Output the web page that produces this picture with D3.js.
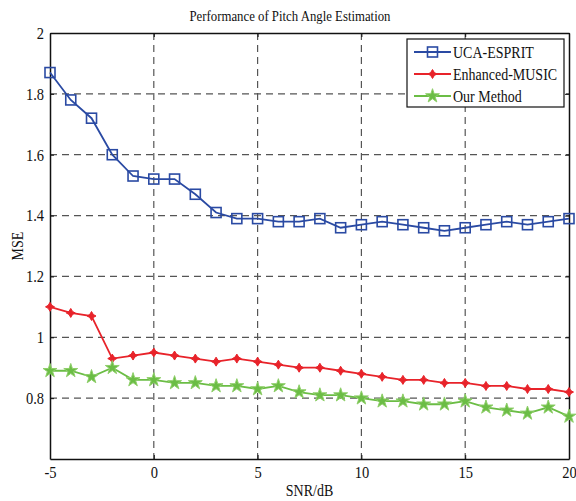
<!DOCTYPE html>
<html><head><meta charset="utf-8">
<script src="https://d3js.org/d3.v7.min.js"></script>
<style>body{margin:0;background:#fff}svg{display:block}text{font-family:"Liberation Serif","Times New Roman",serif;fill:#111}</style>
</head><body>
<script>
const snr = [-5,-4,-3,-2,-1,0,1,2,3,4,5,6,7,8,9,10,11,12,13,14,15,16,17,18,19,20];
const ucaEsprit = [1.87,1.78,1.72,1.60,1.53,1.52,1.52,1.47,1.41,1.39,1.39,1.38,1.38,1.39,1.36,1.37,1.38,1.37,1.36,1.35,1.36,1.37,1.38,1.37,1.38,1.39];
const enhancedMusic = [1.10,1.08,1.07,0.93,0.94,0.95,0.94,0.93,0.92,0.93,0.92,0.91,0.90,0.90,0.89,0.88,0.87,0.86,0.86,0.85,0.85,0.84,0.84,0.83,0.83,0.82];
const ourMethod = [0.89,0.89,0.87,0.90,0.86,0.86,0.85,0.85,0.84,0.84,0.83,0.84,0.82,0.81,0.81,0.80,0.79,0.79,0.78,0.78,0.79,0.77,0.76,0.75,0.77,0.74];
const seriesNames = ["UCA-ESPRIT","Enhanced-MUSIC","Our Method"];
const xTicks = [-5,0,5,10,15,20];
const yTicks = [0.8,1,1.2,1.4,1.6,1.8,2];
const title = "Performance of Pitch Angle Estimation";
const xLabel = "SNR/dB", yLabel = "MSE";

const W=576,H=501;
const m={l:50,r:7,t:33,b:42};
const S=1.15; // vertical glyph stretch of the original figure
const svg=d3.select("body").append("svg").attr("width",W).attr("height",H);
const x=d3.scaleLinear().domain([-5,20]).range([m.l,W-m.r]);
const y=d3.scaleLinear().domain([0.6,2]).range([H-m.b,m.t]);
const at=(px,py)=>`translate(${px},${py}) scale(1,${S})`;

// grid
const g=svg.append("g");
g.selectAll(".gx").data(xTicks.slice(1,-1)).enter().append("line")
 .attr("x1",d=>x(d)).attr("x2",d=>x(d)).attr("y1",m.t).attr("y2",H-m.b)
 .attr("stroke","#555").attr("stroke-dasharray","7,5").attr("stroke-width",1.2);
g.selectAll(".gy").data(yTicks.slice(0,-1)).enter().append("line")
 .attr("y1",d=>y(d)).attr("y2",d=>y(d)).attr("x1",m.l).attr("x2",W-m.r)
 .attr("stroke","#555").attr("stroke-dasharray","7,5").attr("stroke-width",1.2);

// axes
const fmt=d=>String(d).replace("\u2212","-");
const xa=svg.append("g").attr("transform",`translate(0,${H-m.b})`)
 .call(d3.axisBottom(x).tickValues(xTicks).tickSizeInner(-4).tickSizeOuter(0).tickPadding(6).tickFormat(fmt));
const xa2=svg.append("g").attr("transform",`translate(0,${m.t})`)
 .call(d3.axisTop(x).tickValues(xTicks).tickSizeInner(-4).tickSizeOuter(0).tickFormat(""));
const ya=svg.append("g").attr("transform",`translate(${m.l},0)`)
 .call(d3.axisLeft(y).tickValues(yTicks).tickSizeInner(-4).tickSizeOuter(0).tickPadding(6).tickFormat(fmt));
const ya2=svg.append("g").attr("transform",`translate(${W-m.r},0)`)
 .call(d3.axisRight(y).tickValues(yTicks).tickSizeInner(-4).tickSizeOuter(0).tickFormat(""));
[xa,xa2,ya,ya2].forEach(a=>{a.select(".domain").attr("stroke","#111").attr("stroke-width",1.5);
 a.selectAll(".tick line").attr("stroke","#111");
 a.selectAll("text").attr("font-size",14.5).attr("font-family","Liberation Serif").attr("fill","#111")
  .attr("transform",`scale(1,${S})`);});

svg.append("text").attr("transform",at(290,21)).attr("text-anchor","middle").attr("font-size",12.8).text(title);
svg.append("text").attr("transform",at((m.l+W-m.r)/2,496)).attr("text-anchor","middle").attr("font-size",14).text(xLabel);
svg.append("text").attr("transform",`translate(23,246) rotate(-90) scale(1,${S})`).attr("text-anchor","middle").attr("font-size",14).text(yLabel);

const colors=["#2a4aa3","#e8232a","#6bbd45"];
const data=[ucaEsprit,enhancedMusic,ourMethod];
const line=d3.line().x((d,i)=>x(snr[i])).y(d=>y(d));
const star=d3.symbol().type(d3.symbolStar).size(60);
const diamond="M0,-4.5L1.8,-1.5L4.5,0L1.8,1.5L0,4.5L-1.8,1.5L-4.5,0L-1.8,-1.5Z";
function marker(sel,k,cx,cy){
  if(k===0) sel.append("rect").attr("x",cx-5).attr("y",cy-5).attr("width",10).attr("height",10)
     .attr("fill","none").attr("stroke",colors[0]).attr("stroke-width",1.6);
  else if(k===1) sel.append("path").attr("d",diamond).attr("transform",`translate(${cx},${cy})`)
     .attr("fill",colors[1]).attr("stroke",colors[1]).attr("stroke-width",1);
  else sel.append("path").attr("d",star()).attr("transform",`translate(${cx},${cy})`)
     .attr("fill",colors[2]).attr("stroke","#8fcf6a").attr("stroke-width",1);
}
data.forEach((s,k)=>{
  const gg=svg.append("g");
  gg.append("path").datum(s).attr("d",line).attr("fill","none").attr("stroke",colors[k]).attr("stroke-width",1.8);
  s.forEach((v,i)=>marker(gg,k,x(snr[i]),y(v)));
});

// legend
const lg=svg.append("g");
lg.append("rect").attr("x",407).attr("y",39).attr("width",157).attr("height",68).attr("fill","#fff").attr("stroke","#111").attr("stroke-width",1.2);
seriesNames.forEach((n,k)=>{
  const yy=52+k*22;
  lg.append("line").attr("x1",414).attr("x2",451).attr("y1",yy).attr("y2",yy).attr("stroke",colors[k]).attr("stroke-width",1.8);
  marker(lg,k,432.5,yy);
  lg.append("text").attr("transform",at(453,yy+5.5)).attr("font-size",14).text(n);
});
</script>
</body></html>
